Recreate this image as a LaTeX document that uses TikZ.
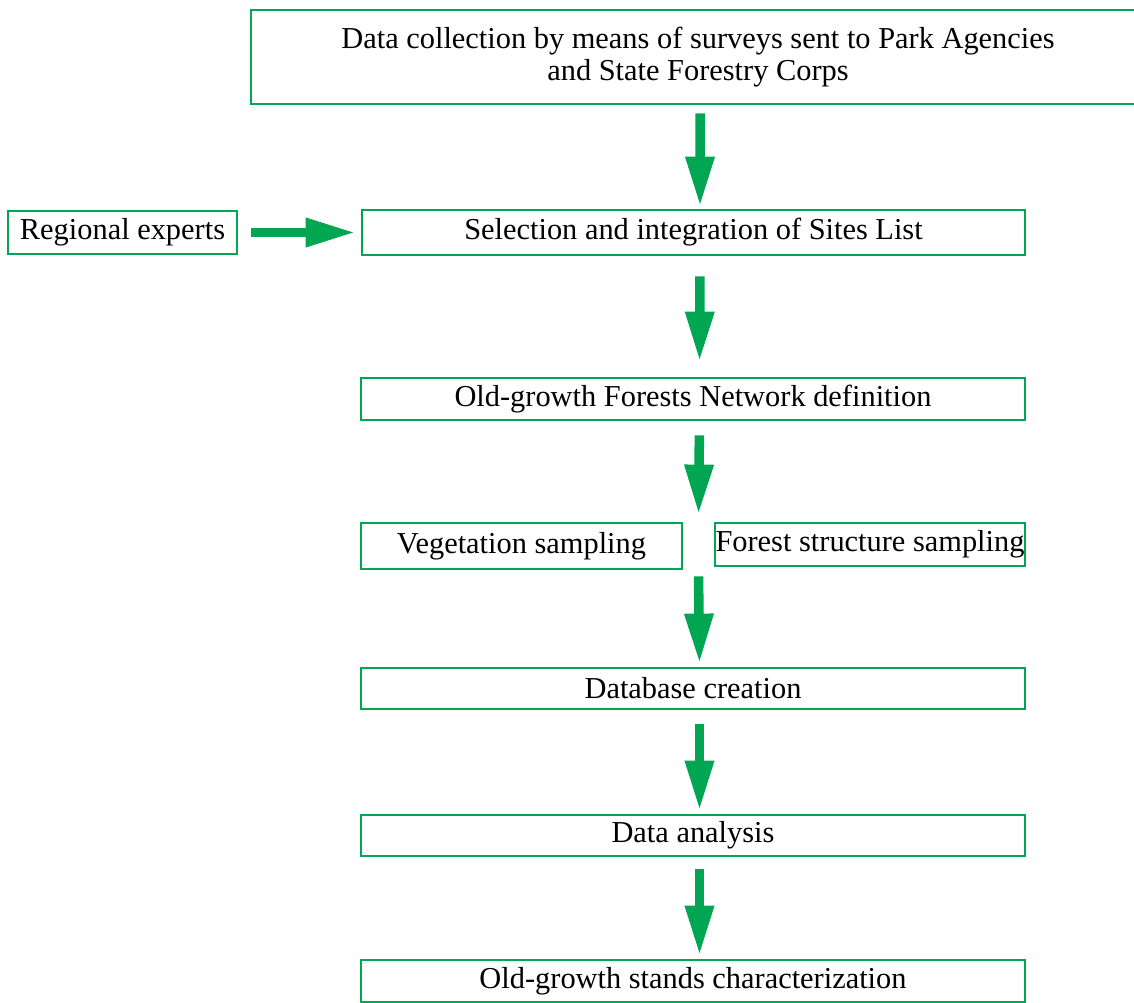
\documentclass[tikz,border=0pt]{standalone}
\usepackage{fontspec}
\setmainfont{Liberation Serif}
\usepackage{xcolor}
\usetikzlibrary{positioning, arrows.meta, calc}

\definecolor{flowgreen}{HTML}{00A651}

\begin{document}
\begin{tikzpicture}[x=0.02cm, y=-0.02cm,
    every node/.style={font=\fontsize{17.3}{18.3}\selectfont},
    box/.style={draw=flowgreen, line width=1.6pt, rectangle, inner sep=0pt, align=center},
    flow/.style={draw=flowgreen, line width=0.19cm, -{Triangle[length=1cm, width=0.54cm]}}]
  \useasboundingbox (0,0) rectangle (1134,1003);
  \clip (0,0) rectangle (1134,1003);

  % Nodes
  \node[box, minimum width=17.88cm, minimum height=1.88cm] (survey) at (698,57) {Data collection by means of surveys sent to Park Agencies\\and State Forestry Corps};
  \node[box, minimum width=4.58cm, minimum height=0.86cm] (experts) at (122.5,232.5) {Regional experts};
  \node[box, minimum width=13.26cm, minimum height=0.9cm] (sites) at (693.5,232.5) {Selection and integration of Sites List};
  \node[box, minimum width=13.28cm, minimum height=0.84cm] (network) at (693,399) {Old-growth Forests Network definition};
  \node[box, minimum width=6.42cm, minimum height=0.92cm] (vegetation) at (521.5,546) {Vegetation sampling};
  \node[box, minimum width=6.2cm, minimum height=0.86cm] (structure) at (870,544.5) {Forest structure sampling};
  \node[box, minimum width=13.28cm, minimum height=0.82cm] (database) at (693,688.5) {Database creation};
  \node[box, minimum width=13.28cm, minimum height=0.82cm] (analysis) at (693,835.5) {Data analysis};
  \node[box, minimum width=13.28cm, minimum height=0.84cm] (stands) at (693,981) {Old-growth stands characterization};

  \coordinate (gap) at ($(vegetation.east)!0.5!(structure.west)$);

  % Arrows
  \draw[flow, shorten <=0.16cm, shorten >=0.04cm] ([xshift=0.04cm]survey.south) -- ([xshift=0.13cm]sites.north);
  \draw[flow, shorten <=0.26cm, shorten >=0.1cm] (experts.east) -- (sites.west);
  \draw[flow, shorten <=0.4cm, shorten >=0.3cm] ([xshift=0.13cm]sites.south) -- ([xshift=0.13cm]network.north);
  \draw[flow, shorten <=0.28cm, shorten >=0.14cm] ([xshift=0.13cm]network.south) -- (gap |- vegetation.north);
  \draw[flow, shorten <=0.12cm, shorten >=0.06cm] (gap |- vegetation.south) -- ([xshift=0.13cm]database.north);
  \draw[flow, shorten <=0.28cm, shorten >=0.06cm] ([xshift=0.13cm]database.south) -- ([xshift=0.13cm]analysis.north);
  \draw[flow, shorten <=0.24cm, shorten >=0.06cm] ([xshift=0.13cm]analysis.south) -- ([xshift=0.13cm]stands.north);
\end{tikzpicture}
\end{document}
